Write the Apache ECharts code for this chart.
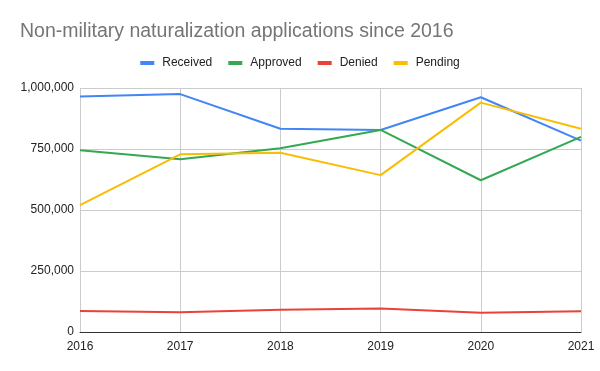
<!DOCTYPE html>
<html><head><meta charset="utf-8">
<script src="https://cdn.jsdelivr.net/npm/echarts@6/dist/echarts.min.js"></script>
<style>html,body{margin:0;padding:0;background:#fff}#c{width:600px;height:371px}</style>
</head><body><div id="c"></div>
<script>
const years = ['2016','2017','2018','2019','2020','2021'];
const received = [965000, 975000, 833000, 828000, 962000, 784000];
const approved = [745000, 708000, 753000, 828000, 622000, 800000];
const denied = [86000, 81000, 91000, 96000, 79000, 85000];
const pending = [520000, 728000, 735000, 643000, 940000, 833000];
const yTicks = [0, 250000, 500000, 750000, 1000000];

const chart = echarts.init(document.getElementById('c'));
const mk = (name, data, color) => ({
  name, type: 'line', data, showSymbol: false, symbol: 'none',
  lineStyle: { width: 2, color }, itemStyle: { color }
});
chart.setOption({
  animation: false,
  title: { text: 'Non-military naturalization applications since 2016', left: 15, top: 17,
    textStyle: { fontFamily: 'Liberation Sans, Arial', fontSize: 19.5, fontWeight: 'normal', color: '#757575' } },
  legend: { top: 52, left: 'center', icon: 'rect', itemWidth: 14, itemHeight: 4, itemGap: 16,
    textStyle: { fontFamily: 'Liberation Sans, Arial', fontSize: 12, color: '#222', padding: [0, 0, 0, 3] } },
  grid: { left: 80, right: 19, top: 88, bottom: 39 },
  xAxis: { type: 'category', data: years, boundaryGap: false,
    axisLine: { lineStyle: { color: '#333', width: 1 } }, axisTick: { show: false },
    axisLabel: { color: '#222', fontSize: 12, fontFamily: 'Liberation Sans, Arial', margin: 9 },
    splitLine: { show: true, lineStyle: { color: '#ccc' } } },
  yAxis: { type: 'value', min: 0, max: yTicks[yTicks.length-1], interval: 250000,
    axisLine: { show: false }, axisTick: { show: false },
    axisLabel: { color: '#222', fontSize: 12, fontFamily: 'Liberation Sans, Arial', margin: 6,
      formatter: v => v.toLocaleString('en-US') },
    splitLine: { lineStyle: { color: '#ccc' } } },
  series: [
    mk('Received', received, '#4285F4'),
    mk('Approved', approved, '#34A853'),
    mk('Denied', denied, '#EA4335'),
    mk('Pending', pending, '#FBBC04')
  ]
});
</script></body></html>
